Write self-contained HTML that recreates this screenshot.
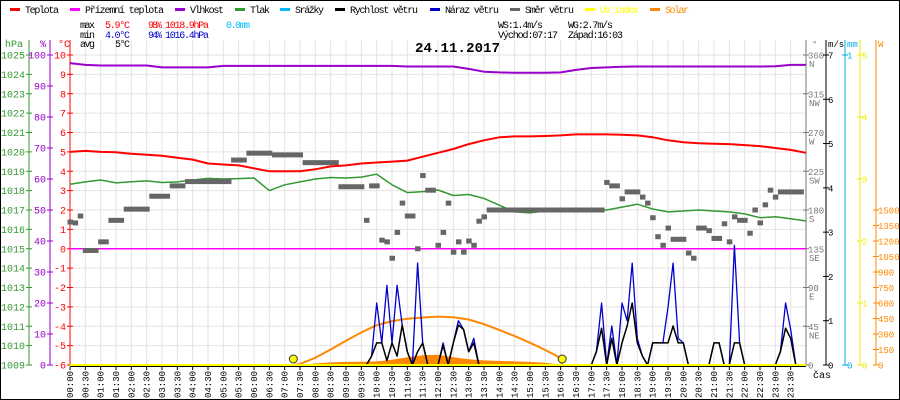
<!DOCTYPE html>
<html><head><meta charset="utf-8"><style>
html,body{margin:0;padding:0;background:#fff}
svg{display:block;font-family:"Liberation Mono",monospace}
</style></head><body>
<svg id="chart" width="900" height="400" viewBox="0 0 900 400" xmlns="http://www.w3.org/2000/svg">
<rect x="0.5" y="0.5" width="899" height="399" fill="#fff" stroke="#000"/>
<g id="grid"></g>
<g id="legend"></g>
<g id="stats" font-size="10">
<text x="80" y="28" textLength="15">max</text>
<text x="105" y="28" fill="#f00" textLength="25">5.9°C</text>
<text x="148" y="28" fill="#f00" textLength="14">98%</text>
<text x="165" y="28" fill="#f00" textLength="44">1018.9hPa</text>
<text x="226" y="28" fill="#00bfff" textLength="24">0.0mm</text>
<text x="80" y="38" textLength="15">min</text>
<text x="105" y="38" fill="#00c" textLength="25">4.0°C</text>
<text x="148" y="38" fill="#00c" textLength="14">94%</text>
<text x="165" y="38" fill="#00c" textLength="44">1016.4hPa</text>
<text x="80" y="47" textLength="15">avg</text>
<text x="115" y="47" textLength="15">5°C</text>
<text x="498" y="28" textLength="45">WS:1.4m/s</text>
<text x="568" y="28" textLength="45">WG:2.7m/s</text>
<text x="498" y="38" textLength="60">Východ:07:17</text>
<text x="568" y="38" textLength="55">Západ:16:03</text>
</g>
<text x="415" y="52" font-size="14" font-weight="bold" textLength="85">24.11.2017</text>
<g id="axes"></g>
<g id="series"></g>
<g id="xaxis"></g>
</svg>
<script>
const halfHours = [0,0.5,1,1.5,2,2.5,3,3.5,4,4.5,5,5.5,6,6.5,7,7.5,8,8.5,9,9.5,10,10.5,11,11.5,12,12.5,13,13.5,14,14.5,15,15.5,16,16.5,17,17.5,18,18.5,19,19.5,20,20.5,21,21.5,22,22.5,23,23.5,24];
const tempValues = [5.0,5.05,5.0,4.98,4.9,4.85,4.8,4.7,4.6,4.4,4.35,4.3,4.15,4.0,4.0,4.0,4.1,4.25,4.3,4.4,4.45,4.5,4.55,4.75,4.95,5.15,5.4,5.6,5.75,5.8,5.8,5.82,5.85,5.9,5.9,5.9,5.88,5.85,5.75,5.6,5.5,5.45,5.42,5.4,5.35,5.3,5.2,5.1,4.95];
const apparentValues = [0,0,0,0,0,0,0,0,0,0,0,0,0,0,0,0,0,0,0,0,0,0,0,0,0,0,0,0,0,0,0,0,0,0,0,0,0,0,0,0,0,0,0,0,0,0,0,0,0];
const humidityValues = [97.4,96.8,96.6,96.6,96.6,96.6,96.0,96.0,96.0,96.0,96.5,96.5,96.5,96.5,96.5,96.5,96.5,96.5,96.5,96.5,96.5,96.5,96.3,96.3,96.3,96.3,95.5,94.6,94.4,94.3,94.3,94.3,94.4,95.2,95.8,96.0,96.2,96.3,96.3,96.3,96.3,96.3,96.3,96.3,96.3,96.3,96.4,96.8,96.8];
const pressureValues = [1018.33,1018.45,1018.55,1018.4,1018.46,1018.5,1018.42,1018.45,1018.55,1018.63,1018.6,1018.62,1018.65,1018.0,1018.3,1018.45,1018.6,1018.68,1018.65,1018.7,1018.85,1018.3,1017.9,1017.95,1018.03,1017.75,1017.8,1017.6,1017.25,1016.9,1016.85,1016.95,1017.0,1017.0,1017.0,1017.0,1017.15,1017.3,1017.05,1016.9,1016.95,1017.0,1016.95,1016.9,1016.8,1016.6,1016.65,1016.55,1016.43];
const directionValues = [166,165,173,133,133,133, 143,143,168,168,168,181, 181,181,181,181,196,196, 196,196,208,208,208,213, 213,213,213,213,213,213, 213,213,238,238,238,246, 246,246,246,246,244,244, 244,244,244,244,235,235, 235,235,235,235,235,207, 207,207,207,207,168,208, 208,145,143,124,154,188, 173,173,135,220,203,203, 139,154,188,131,143,131, 144,139,167,172,180,180, 180,180,180,180,180,180, 180,180,180,180,180,180, 180,180,180,180,180,180, 180,180,180,212,208,208, 193,201,201,201,195,188, 171,149,139,159,146,146, 146,130,124,159,159,156, 147,147,164,143,172,168, 168,153,180,165,186,203, 195,201,201,201,201,201];
const speedValues = [0,0,0,0,0,0, 0,0,0,0,0,0, 0,0,0,0,0,0, 0,0,0,0,0,0, 0,0,0,0,0,0, 0,0,0,0,0,0, 0,0,0,0,0,0, 0,0,0,0,0,0, 0,0,0,0,0,0, 0,0,0,0,0,0.2, 0.5,0.5,0.1,0.5,0.2,0.9, 0.3,0,0.3,0.5,0,0, 0,0.45,0,0.5,0.9,0.8, 0.3,0.5,0,0,0,0, 0,0,0,0,0,0, 0,0,0,0,0,0, 0,0,0,0,0,0, 0,0.3,0.83,0,0.6,0, 0.5,0.88,1.4,0.5,0.2,0, 0.5,0.5,0.5,0.5,0.88,0.5, 0.5,0,0,0,0,0, 0.5,0.5,0,0,0.5,0.5, 0,0,0,0,0,0, 0,0.3,0.83,0.6,0,0, 0];
const gustValues = [0,0,0,0,0,0, 0,0,0,0,0,0, 0,0,0,0,0,0, 0,0,0,0,0,0, 0,0,0,0,0,0, 0,0,0,0,0,0, 0,0,0,0,0,0, 0,0,0,0,0,0, 0,0,0,0,0,0, 0,0,0,0,0,0.2, 1.4,0.5,1.8,0.5,1.8,0.9, 0.3,0,2.3,0.5,0,0, 0,0.5,0,0.5,1.0,0.8, 0.3,0.6,0,0,0,0, 0,0,0,0,0,0, 0,0,0,0,0,0, 0,0,0,0,0,0, 0,0.3,1.4,0,0.88,0, 1.4,1.0,2.3,0.6,0.2,0, 0.5,0.5,0.5,1.3,2.3,0.6, 0.5,0,0,0,0,0, 0.5,0.5,0,0,2.7,0.5, 0,0,0,0,0,0, 0,0.3,1.4,0.8,0,0, 0];
const clearSkyTimes = [7.28,7.5,8,8.5,9,9.5,10,10.5,11,11.5,12,12.5,13,13.5,14,14.5,15,15.5,16,16.05];
const clearSkyValues = [0,10,70,150,235,315,385,425,448,460,468,462,440,395,340,280,215,145,68,0];
const solarTimes = [7.5,8,8.5,9,9.5,10,10.5,11,11.5,12,12.5,13,13.5,14,14.5,15,15.5,16,16.5];
const solarValues = [0,15,25,30,32,35,50,75,95,100,75,55,45,40,35,30,20,5,0];
const sunEvents = [7.283,16.05];
const xTickLabels = ["00:00","00:30","01:00","01:30","02:00","02:30","03:00","03:30","04:00","04:30","05:00","05:30","06:00","06:30","07:00","07:30","08:00","08:30","09:00","09:30","10:00","10:30","11:00","11:30","12:00","12:30","13:00","13:30","14:00","14:30","15:00","15:30","16:00","16:30","17:00","17:30","18:00","18:30","19:00","19:30","20:00","20:30","21:00","21:30","22:00","22:30","23:00","23:30"];
const hpaTicks = [1009,1010,1011,1012,1013,1014,1015,1016,1017,1018,1019,1020,1021,1022,1023,1024,1025];
const humTicks = [0,10,20,30,40,50,60,70,80,90,100];
const tempTicks = [-6,-5,-4,-3,-2,-1,0,1,2,3,4,5,6,7,8,9,10];
const dirTicks = [0,45,90,135,180,225,270,315,360];
const dirNames = ["","NE","E","SE","S","SW","W","NW","N"];
const msTicks = [0,1,2,3,4,5,6,7];
const mmTicks = [0,1];
const uvTicks = [0,1,2,3,4,5];
const wTicks = [0,150,300,450,600,750,900,1050,1200,1350,1500];

const NS="http://www.w3.org/2000/svg";
const X0=70,X1=806,Y0=365,Y1=55;
const X=h=>X0+h*(X1-X0)/24;
const yT=c=>Y0-(c+6)*(Y0-Y1)/16;
const yP=p=>Y0-(p-1009)*(Y0-Y1)/16;
const yH=v=>Y0-v*(Y0-Y1)/100;
const yD=d=>Y0-d*(Y0-Y1)/360;
const yS=v=>Y0-v*(Y0-Y1)/7;
const yMM=v=>Y0-v*(Y0-Y1)/1;
const yUV=v=>Y0-v*(Y0-Y1)/5;
const yW=v=>Y0-v*(Y0-Y1)/3000;
function mk(tag,attrs,parent,txt){const e=document.createElementNS(NS,tag);for(const k in attrs)e.setAttribute(k,attrs[k]);if(txt!==undefined)e.textContent=txt;parent.appendChild(e);return e;}
const grid=document.getElementById('grid'),axes=document.getElementById('axes'),series=document.getElementById('series'),xaxis=document.getElementById('xaxis'),legend=document.getElementById('legend');

tempTicks.forEach(t=>{const l=mk('line',{x1:X0,x2:X1,y1:yT(t),y2:yT(t),stroke:'#e6e2e2','stroke-width':1},grid);

});
xTickLabels.forEach((s,i)=>{const x=X(i*0.5);const l=mk('line',{x1:x,x2:x,y1:Y1-15,y2:Y0,stroke:'#e6e2e2','stroke-width':1},grid);

});

const legItems=[["Teplota","#f00",10,25,34,"#000"],["Přízemní teplota","#f0f",70,85,79,"#000"],["Vlhkost","#90c",175,190,34,"#000"],["Tlak","#393",235,250,20,"#000"],["Srážky","#0bf",280,295,29,"#000"],["Rychlost větru","#000",335,350,68,"#000"],["Náraz větru","#00c",430,445,54,"#000"],["Směr větru","#666",510,525,49,"#000"],["UV index","#ff0",585,600,39,"#ff0"],["Solar","#f80",650,665,24,"#f80"]];
legItems.forEach(it=>{const g=mk('g',{},legend);


mk('rect',{x:it[2],y:8,width:10,height:3,fill:it[1]},g);
mk('text',{x:it[3],y:13,'font-size':10,fill:it[5],textLength:it[4]},g,it[0]);});

function vaxis(x,color,ticks,yf,side,name,fs){const g=mk('g',{},axes);


mk('line',{x1:x,x2:x,y1:40,y2:Y0,stroke:color,'stroke-width':1},g);
ticks.forEach((t,i)=>{const y=yf(t);mk('line',{x1:x-3,x2:x+3,y1:y,y2:y,stroke:color},g);
if(side==='L')mk('text',{x:x-4,y:y+3.5,'font-size':fs,fill:color,'text-anchor':'end'},g,t);
else mk('text',{x:x+2,y:y+3.5,'font-size':fs,fill:color},g,t);});return g;}
vaxis(29,'#393',hpaTicks,yP,'L','pressure-axis',10);
vaxis(50,'#90c',humTicks,yH,'L','humidity-axis',10);
vaxis(70,'#f00',tempTicks,yT,'L','temperature-axis',10);
const dg=vaxis(806,'#777',dirTicks,yD,'R','direction-axis',9);
dirTicks.forEach((t,i)=>{if(dirNames[i])mk('text',{x:809,y:yD(t)+12,'font-size':9,fill:'#777'},dg,dirNames[i]);});
vaxis(826,'#000',msTicks,yS,'R','wind-speed-axis',9);
vaxis(845,'#0ae',mmTicks,yMM,'R','rain-axis',9);
vaxis(860,'#ee0',uvTicks,yUV,'R','uv-axis',9);
vaxis(876,'#f80',wTicks,yW,'R','solar-axis',9);
[["hPa",5,'#393',10],["%",40,'#90c',10],["°C",58,'#f00',10],["°",812,'#777',9],["m/s",828,'#000',9],["mm",847,'#0ae',9],["W",878,'#f80',9]].forEach(u=>{const t=mk('text',{x:u[1],y:47,'font-size':u[3],fill:u[2]},axes,u[0]);

});

function line(times,vals,yf,color,w,name){const pts=vals.map((v,i)=>X(times[i]).toFixed(1)+','+yf(v).toFixed(1)).join(' ');const p=mk('polyline',{points:pts,fill:'none',stroke:color,'stroke-width':w,'stroke-linejoin':'round'},series);

}
const tenMin=speedValues.map((v,i)=>i/6);
const solPts=solarValues.map((v,i)=>X(solarTimes[i]).toFixed(1)+','+yW(v).toFixed(1)).join(' ');
const sp=mk('polygon',{points:X(solarTimes[0])+','+Y0+' '+solPts+' '+X(solarTimes[solarTimes.length-1])+','+Y0,fill:'#f80'},series);


line(clearSkyTimes,clearSkyValues,yW,'#f80',2,'clear-sky-solar-line');
line(halfHours,apparentValues,yT,'#f0f',1.5,'apparent-temperature-line');
line(halfHours,humidityValues,yH,'#90c',2,'humidity-line');
line(halfHours,pressureValues,yP,'#393',1.5,'pressure-line');
line(halfHours,tempValues,yT,'#f00',2,'temperature-line');
directionValues.forEach((d,i)=>{const r=mk('rect',{x:X(i/6)-2.5,y:yD(d)-2.5,width:5.5,height:5,fill:'#666'},series);

});
line(tenMin,gustValues,yS,'#00c',1.3,'wind-gust-line');
line(tenMin,speedValues,yS,'#000',1.5,'wind-speed-line');
const bl=mk('line',{x1:X0,x2:X1,y1:Y0,y2:Y0,stroke:'#ff0','stroke-width':2},series);


mk('line',{x1:X0,x2:X1,y1:Y0+1.5,y2:Y0+1.5,stroke:'#000','stroke-width':1},series);
sunEvents.forEach(t=>{const c=mk('circle',{cx:X(t),cy:Y0-6,r:4,fill:'#ff0',stroke:'#333','stroke-width':1},series);

});

xTickLabels.forEach((s,i)=>{const x=X(i*0.5);mk('line',{x1:x,x2:x,y1:Y0+2,y2:Y0+5,stroke:'#000'},xaxis);
const t=mk('text',{x:0,y:0,'font-size':9,transform:'translate('+(x+3)+',398) rotate(-90)'},xaxis,s);

});
const cas=mk('text',{x:813,y:378,'font-size':10},xaxis,'čas');


</script>
</body></html>
